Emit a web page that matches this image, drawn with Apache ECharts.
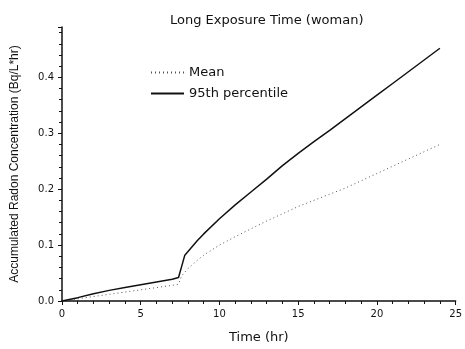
<!DOCTYPE html>
<html><head><meta charset="utf-8">
<script src="https://cdn.jsdelivr.net/npm/echarts@6/dist/echarts.min.js"></script>
<style>html,body{margin:0;padding:0;background:#fff}#c{width:465px;height:349px}</style>
</head><body><div id="c"></div>
<script>
var titleText = 'Long Exposure Time (woman)';
var xName = 'Time (hr)';
var yName = 'Accumulated Radon Concentration (Bq/L*hr)';
var meanName = 'Mean';
var p95Name = '95th percentile';
var meanData = [[0,0],[1,0.004],[2,0.008],[3,0.012],[4,0.016],[5,0.02],[6,0.024],[7,0.028],[7.4,0.03],[7.6,0.045],[8,0.058],[8.6,0.073],[9,0.082],[10,0.1],[11,0.115],[12,0.129],[13,0.143],[14,0.156],[15,0.169],[16,0.18],[17,0.191],[18,0.202],[19,0.215],[20,0.228],[21,0.241],[22,0.254],[23,0.267],[24,0.28]];
var p95Data = [[0,0],[1,0.006],[2,0.013],[3,0.019],[4,0.024],[5,0.029],[6,0.034],[7,0.039],[7.4,0.042],[7.6,0.062],[7.8,0.082],[8.6,0.108],[9,0.12],[10,0.147],[11,0.172],[12,0.195],[13,0.218],[14,0.242],[15,0.264],[16,0.285],[17,0.305],[18,0.326],[19,0.347],[20,0.368],[21,0.389],[22,0.41],[23,0.431],[24,0.452]];
var chart = echarts.init(document.getElementById('c'));
var font = 'DejaVu Sans, sans-serif';
chart.setOption({
  animation:false,
  backgroundColor:'#fff',
  title:{text:titleText,left:165,top:9,textStyle:{fontFamily:font,fontSize:13,fontWeight:'normal',color:'#111'}},
  legend:{orient:'vertical',left:145,top:61,itemWidth:33,itemHeight:10,itemGap:8,
    itemStyle:{opacity:0},
    textStyle:{fontFamily:font,fontSize:13,color:'#111'},
    data:[meanName,p95Name]},
  grid:{left:62,right:3,top:27,bottom:46},
  xAxis:{type:'value',min:0,max:25,interval:5,name:xName,nameLocation:'middle',nameGap:30,
    nameTextStyle:{fontFamily:font,fontSize:13,color:'#111'},
    axisLine:{lineStyle:{color:'#111',width:1.5}},
    axisTick:{length:4,lineStyle:{color:'#111'}},
    minorTick:{show:true,splitNumber:5,length:3,lineStyle:{color:'#111'}},
    axisLabel:{fontFamily:font,fontSize:10,color:'#111',margin:8},
    splitLine:{show:false}},
  yAxis:{type:'value',min:0,max:0.49,interval:0.1,name:yName,nameLocation:'middle',nameGap:41,
    nameTextStyle:{fontFamily:'Liberation Sans, Arial, sans-serif',fontSize:12,color:'#111'},
    axisLine:{show:true,lineStyle:{color:'#111',width:1.5}},
    axisTick:{show:true,length:4,lineStyle:{color:'#111'}},
    minorTick:{show:true,splitNumber:5,length:3,lineStyle:{color:'#111'}},
    axisLabel:{fontFamily:font,fontSize:10,color:'#111',showMaxLabel:false,
      formatter:function(v){return v.toFixed(1);}},
    splitLine:{show:false}},
  series:[
    {name:meanName,type:'line',data:meanData,symbol:'none',
      lineStyle:{color:'#555',width:1,type:[1,3]},itemStyle:{color:'#555'}},
    {name:p95Name,type:'line',data:p95Data,symbol:'none',
      lineStyle:{color:'#111',width:1.5},itemStyle:{color:'#111'}}
  ]
});
</script></body></html>
